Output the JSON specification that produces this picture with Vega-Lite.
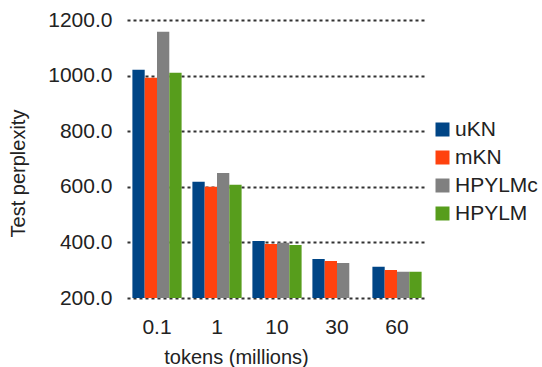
{
  "$schema": "https://vega.github.io/schema/vega-lite/v6.json",
  "autosize": {"type": "none"},
  "padding": {"left": 127, "top": 20, "right": 115, "bottom": 69},
  "width": 300,
  "height": 278,
  "background": "white",
  "config": {
    "view": {"stroke": null},
    "font": "Liberation Sans"
  },
  "data": {
    "values": [
      {"tokens": "0.1", "model": "uKN", "perplexity": 1021},
      {"tokens": "0.1", "model": "mKN", "perplexity": 992},
      {"tokens": "0.1", "model": "HPYLMc", "perplexity": 1158},
      {"tokens": "0.1", "model": "HPYLM", "perplexity": 1010},
      {"tokens": "1", "model": "uKN", "perplexity": 618},
      {"tokens": "1", "model": "mKN", "perplexity": 600},
      {"tokens": "1", "model": "HPYLMc", "perplexity": 650},
      {"tokens": "1", "model": "HPYLM", "perplexity": 607},
      {"tokens": "10", "model": "uKN", "perplexity": 405},
      {"tokens": "10", "model": "mKN", "perplexity": 394},
      {"tokens": "10", "model": "HPYLMc", "perplexity": 399},
      {"tokens": "10", "model": "HPYLM", "perplexity": 391},
      {"tokens": "30", "model": "uKN", "perplexity": 340},
      {"tokens": "30", "model": "mKN", "perplexity": 333},
      {"tokens": "30", "model": "HPYLMc", "perplexity": 326},
      {"tokens": "60", "model": "uKN", "perplexity": 312},
      {"tokens": "60", "model": "mKN", "perplexity": 301},
      {"tokens": "60", "model": "HPYLMc", "perplexity": 294},
      {"tokens": "60", "model": "HPYLM", "perplexity": 294}
    ]
  },
  "mark": {"type": "bar", "clip": true},
  "encoding": {
    "x": {
      "field": "tokens",
      "type": "nominal",
      "sort": ["0.1", "1", "10", "30", "60"],
      "scale": {"paddingInner": 0.18, "paddingOuter": 0.09},
      "axis": {
        "title": "tokens (millions)",
        "labelAngle": 0,
        "ticks": false,
        "domain": false,
        "labelFont": "Liberation Sans",
        "labelFontSize": 21,
        "labelColor": "#222222",
        "labelBaseline": "alphabetic",
        "labelPadding": 35,
        "titleFont": "Liberation Sans",
        "titleFontSize": 20,
        "titleFontWeight": "normal",
        "titleColor": "#222222",
        "titleAlign": "center",
        "titleBaseline": "alphabetic",
        "titleX": 109,
        "titleY": 65
      }
    },
    "xOffset": {
      "field": "model",
      "type": "nominal",
      "sort": ["uKN", "mKN", "HPYLMc", "HPYLM"],
      "scale": {"paddingInner": 0, "paddingOuter": 0}
    },
    "y": {
      "field": "perplexity",
      "type": "quantitative",
      "scale": {"domain": [200, 1200], "nice": false, "zero": false},
      "axis": {
        "title": "Test perplexity",
        "values": [200, 400, 600, 800, 1000, 1200],
        "format": ".1f",
        "ticks": false,
        "domain": false,
        "grid": true,
        "gridColor": "#333333",
        "gridWidth": 2,
        "gridDash": [3, 3],
        "labelFont": "Liberation Sans",
        "labelFontSize": 21,
        "labelColor": "#222222",
        "labelPadding": 15,
        "titleFont": "Liberation Sans",
        "titleFontSize": 20,
        "titleFontWeight": "normal",
        "titleColor": "#222222",
        "titleAngle": -90,
        "titleAlign": "center",
        "titleBaseline": "middle",
        "titleX": -109,
        "titleY": 153
      }
    },
    "color": {
      "field": "model",
      "type": "nominal",
      "sort": ["uKN", "mKN", "HPYLMc", "HPYLM"],
      "scale": {
        "domain": ["uKN", "mKN", "HPYLMc", "HPYLM"],
        "range": ["#004586", "#ff420e", "#808080", "#579d1c"]
      },
      "legend": {
        "title": null,
        "orient": "none",
        "legendX": 305,
        "legendY": 99,
        "symbolType": "square",
        "symbolSize": 196,
        "symbolStrokeWidth": 0,
        "symbolOpacity": 1,
        "labelFont": "Liberation Sans",
        "labelFontSize": 21,
        "labelColor": "#222222",
        "labelOffset": 2,
        "rowPadding": 6
      }
    }
  }
}
